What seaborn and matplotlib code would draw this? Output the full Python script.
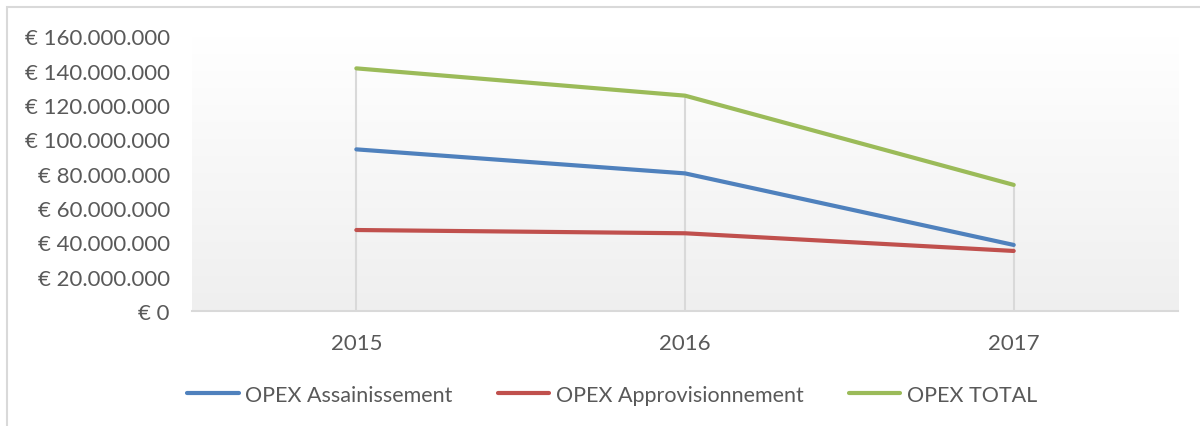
import numpy as np
import pandas as pd
import matplotlib.pyplot as plt
import seaborn as sns
from matplotlib.patches import Rectangle
from matplotlib.ticker import FuncFormatter

# Data (values in euros)
years = ["2015", "2016", "2017"]
opex_assainissement = [94_200_000, 80_200_000, 38_500_000]
opex_approvisionnement = [47_200_000, 45_300_000, 35_000_000]
opex_total = [141_400_000, 125_500_000, 73_500_000]

series_names = ["OPEX Assainissement", "OPEX Approvisionnement", "OPEX TOTAL"]
colors = ["#4f81bd", "#c0504d", "#9bbb59"]

df = pd.DataFrame({
    "Année": years * 3,
    "Valeur": opex_assainissement + opex_approvisionnement + opex_total,
    "Série": [n for n in series_names for _ in years],
})

sns.set_style("white")
plt.rcParams["font.family"] = ["Lato", "DejaVu Sans"]
text_color = "#595959"
grid_color = "#d9d9d9"

fig = plt.figure(figsize=(12, 4.27), dpi=100)
ax = fig.add_axes([0.16, 0.2693, 0.8217, 0.643])

# gradient background of the plot area
grad = np.linspace(0, 1, 256).reshape(-1, 1)
ax.imshow(grad, cmap=plt.matplotlib.colors.LinearSegmentedColormap.from_list(
    "bg", ["#ffffff", "#efefef"]), aspect="auto", extent=[0, 1, 0, 1],
    transform=ax.transAxes, zorder=0, origin="upper")

# drop lines from the highest point down to the axis
x_pos = np.arange(len(years))
top_vals = df.groupby("Année", sort=False)["Valeur"].max().values
ax.vlines(x_pos, 0, top_vals, color=grid_color, lw=1.5, zorder=1)

sns.lineplot(data=df, x="Année", y="Valeur", hue="Série", palette=colors,
             lw=3.0, ax=ax, zorder=3, solid_capstyle="round")

ax.set_xlim(-0.5, 2.5)
ax.set_ylim(0, 160_000_000)
ax.set_yticks(np.arange(0, 160_000_001, 20_000_000))


def euro(v, pos):
    if v == 0:
        return "€ 0"
    return "€ " + f"{v:,.0f}".replace(",", ".")


ax.yaxis.set_major_formatter(FuncFormatter(euro))
ax.set_xlabel("")
ax.set_ylabel("")
ax.tick_params(axis="both", length=0, labelsize=16, labelcolor=text_color)
ax.tick_params(axis="y", pad=16)
ax.tick_params(axis="x", pad=16)

for s in ["top", "right", "left"]:
    ax.spines[s].set_visible(False)
ax.spines["bottom"].set_color(grid_color)
ax.spines["bottom"].set_linewidth(1.5)
ax.spines["bottom"].set_zorder(2)

handles, labels = ax.get_legend_handles_labels()
ax.get_legend().remove()
leg = fig.legend(handles, labels, loc="center", bbox_to_anchor=(0.51, 0.0726),
                 ncol=3, frameon=False, fontsize=15.5, handlelength=2.4,
                 handletextpad=0.3, columnspacing=2.1)
for t in leg.get_texts():
    t.set_color(text_color)

# outer chart frame (only top and left visible in the crop)
fig.add_artist(Rectangle((7 / 1200, -0.2), 1.3, 0.9813 + 0.2, fill=False,
                         edgecolor=grid_color, lw=1.5, transform=fig.transFigure))

fig.savefig("out.png", dpi=100)
